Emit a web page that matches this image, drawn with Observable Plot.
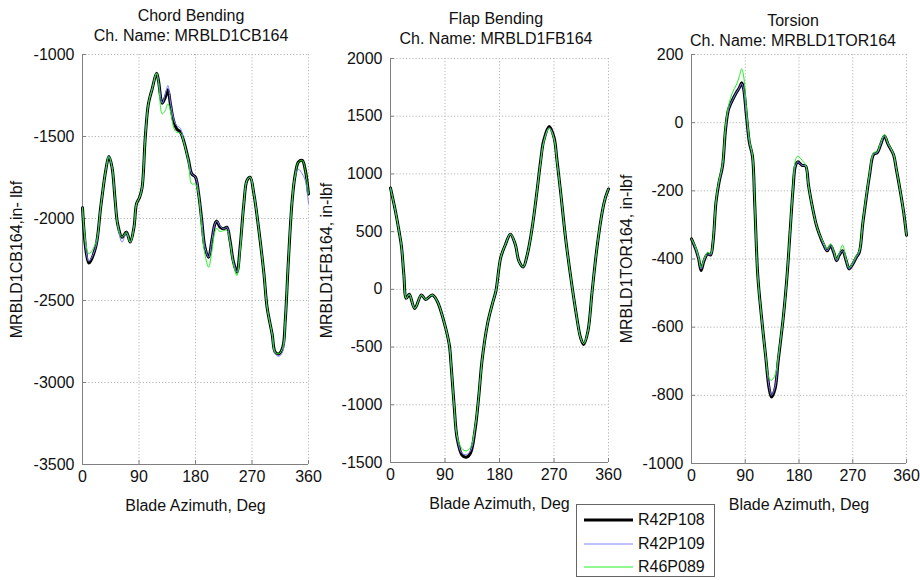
<!DOCTYPE html>
<html><head><meta charset="utf-8">
<script src="https://cdn.jsdelivr.net/npm/d3@7"></script>
<script src="https://cdn.jsdelivr.net/npm/@observablehq/plot@0.6"></script>
<style>
body{margin:0;background:#fff;font-family:"Liberation Sans",Arial,Helvetica,sans-serif;}
#wrap{position:relative;width:920px;height:580px;overflow:hidden;background:#fff;}
.panel{position:absolute;top:0;}
.title{position:absolute;text-align:center;font-size:16px;line-height:20px;color:#111;white-space:nowrap;transform:translateX(-50%);}
#legend{position:absolute;left:576px;top:504px;width:139px;height:73px;border:1px solid #666;background:#fff;box-sizing:border-box;}
.li{position:absolute;left:0;height:20px;font-size:16px;line-height:20px;color:#111;}
.li svg{position:absolute;left:7px;top:0;}
.li span{position:absolute;left:61px;top:0;white-space:nowrap;}
</style>
</head><body>
<div id="wrap"></div>
<script>
// ---------- data ----------
const seriesNames = ["R42P108", "R42P109", "R46P089"];
const xTicks = [0, 90, 180, 270, 360];

// Chord bending
const azCB = [0,10,21,29,37,42,47,52,56,63,70,76,82,86,91,95,100,105,111,118,121,127,132,136,140,145,150,156,161,169,174,180,185,190,195,201,206,211,214,219,225,230,235,240,246,251,257,262,267,273,281,289,294,302,307,313,319,323,328,334,339,344,350,355,360];
const cb108 = [-1935,-2272,-2175,-1931,-1707,-1622,-1687,-1890,-2033,-2114,-2083,-2144,-2053,-1911,-1870,-1809,-1504,-1301,-1209,-1114,-1159,-1297,-1260,-1215,-1301,-1402,-1453,-1474,-1524,-1646,-1728,-1748,-1850,-2012,-2175,-2236,-2134,-2033,-2016,-2053,-2063,-2053,-2134,-2256,-2327,-2175,-1911,-1768,-1748,-1850,-2073,-2337,-2541,-2703,-2815,-2825,-2785,-2622,-2256,-1890,-1728,-1656,-1646,-1707,-1850];
const cb109 = [-1935,-2260,-2175,-1931,-1707,-1622,-1687,-1890,-2040,-2144,-2090,-2144,-2053,-1911,-1870,-1809,-1504,-1301,-1209,-1114,-1159,-1297,-1240,-1189,-1290,-1390,-1433,-1450,-1524,-1646,-1728,-1748,-1850,-2012,-2175,-2236,-2134,-2033,-2016,-2045,-2063,-2053,-2134,-2256,-2327,-2175,-1911,-1768,-1748,-1850,-2073,-2337,-2541,-2703,-2825,-2840,-2810,-2622,-2256,-1890,-1740,-1700,-1728,-1770,-1910];
const cb089 = [-1935,-2215,-2150,-1931,-1707,-1622,-1687,-1890,-2033,-2114,-2083,-2144,-2053,-1911,-1870,-1809,-1504,-1301,-1209,-1114,-1170,-1362,-1340,-1301,-1340,-1443,-1474,-1480,-1530,-1660,-1789,-1790,-1860,-2060,-2220,-2297,-2200,-2080,-2060,-2080,-2073,-2073,-2150,-2270,-2348,-2200,-1911,-1768,-1748,-1850,-2073,-2337,-2541,-2703,-2815,-2825,-2785,-2622,-2256,-1890,-1728,-1656,-1646,-1707,-1850];

// Flap bending
const azFB = [0,8,14,18,22,26,31,40,51,58,69,77,88,97,100,105,110,118,125,132,140,146,151,160,168,174,182,190,198,206,212,219,226,234,242,248,253,262,270,275,281,289,297,306,314,319,326,333,341,350,355,360];
const fb108 = [878,681,507,377,130,-78,-43,-165,-49,-87,-49,-101,-275,-478,-650,-1000,-1290,-1435,-1455,-1420,-1203,-913,-623,-304,-130,-15,275,391,478,391,246,194,304,536,855,1116,1290,1411,1318,1116,840,449,130,-189,-421,-478,-363,-15,362,681,797,870];
const fb109 = [878,681,507,377,130,-78,-43,-165,-49,-87,-49,-101,-275,-478,-650,-1000,-1285,-1420,-1430,-1400,-1195,-913,-623,-304,-130,-15,275,391,478,391,246,194,304,536,855,1110,1280,1400,1310,1110,840,449,130,-189,-421,-470,-363,-15,362,681,797,870];
const fb089 = [878,681,507,377,130,-78,-43,-165,-49,-87,-49,-101,-275,-478,-650,-1000,-1270,-1380,-1400,-1370,-1180,-913,-623,-304,-130,-15,275,391,478,391,246,194,304,536,855,1110,1275,1395,1305,1105,840,449,130,-189,-421,-470,-363,-15,362,681,797,870];

// Torsion
const azTOR = [0,7,12,16,21,27,32,36,41,46,52,57,62,69,75,80,84,87,92,97,102,106,111,117,124,130,134,140,145,154,160,165,170,174,178,185,191,196,202,208,213,222,227,233,238,243,247,253,259,264,270,276,281,287,293,298,305,311,316,323,329,338,343,349,355,360];
const tor108 = [-341,-371,-400,-434,-405,-385,-388,-351,-234,-176,-127,-20,39,68,88,102,117,102,20,-59,-98,-244,-449,-566,-683,-780,-805,-780,-702,-566,-449,-322,-195,-127,-115,-125,-127,-185,-244,-293,-322,-361,-376,-361,-380,-405,-390,-376,-405,-429,-415,-395,-380,-293,-215,-156,-93,-88,-68,-39,-63,-93,-137,-195,-260,-330];
const tor109 = [-341,-371,-400,-430,-405,-385,-388,-351,-234,-176,-127,-20,39,68,88,102,115,100,20,-59,-98,-244,-449,-566,-683,-775,-800,-775,-700,-566,-449,-322,-195,-127,-115,-125,-127,-185,-244,-293,-322,-361,-376,-361,-380,-405,-390,-376,-405,-429,-415,-395,-380,-293,-215,-156,-93,-88,-68,-39,-63,-93,-137,-195,-260,-330];
const tor089 = [-341,-365,-395,-425,-400,-380,-385,-345,-230,-170,-120,-10,50,90,110,135,158,140,40,-50,-95,-244,-449,-566,-680,-750,-756,-740,-690,-566,-449,-322,-190,-110,-98,-110,-125,-185,-244,-293,-322,-355,-370,-355,-375,-400,-385,-359,-400,-425,-410,-390,-375,-290,-210,-150,-88,-85,-62,-35,-60,-90,-135,-195,-260,-330];

// ---------- drawing ----------
const FONT = '"Liberation Sans", Arial, Helvetica, sans-serif';
const H = 520;
const colors = ["#000000", "#8080ff", "#22ee22"];
const widths = [3, 1, 1];
const rows = (az, v) => az.map((a, i) => ({az: a, v: v[i]}));

function panel({left, width, mL, mR, mT, mB, yDomain, yTicks, yLabel, az, series, yLabelOffset, xLabelOffset}) {
  const plotW = width - mL - mR;
  const plotH = H - mT - mB;
  const gridStyle = {stroke: "#b5b5b5", strokeOpacity: 1, strokeDasharray: "1.2,2"};
  const marks = [
    Plot.gridX(xTicks.filter(d => d !== 0), gridStyle),
    Plot.gridY(yTicks.filter(d => d !== yDomain[0]), gridStyle),
    Plot.ruleX([0], {stroke: "#808080"}),
    Plot.ruleY([yDomain[0]], {stroke: "#808080"}),
    Plot.ruleX(xTicks, {stroke: "#808080", insetTop: plotH - 4}),
    Plot.ruleY(yTicks, {stroke: "#808080", insetRight: plotW - 4})
  ];
  series.forEach((s, i) => {
    marks.push(Plot.line(rows(az, s), {x: "az", y: "v", stroke: colors[i], strokeWidth: widths[i], curve: "catmull-rom", strokeLinejoin: "round"}));
  });
  marks.push(
    Plot.axisX(xTicks, {tickSize: 0, tickPadding: 6, tickFormat: d => String(d), label: "Blade Azimuth, Deg", labelAnchor: "center", labelArrow: "none", labelOffset: xLabelOffset, fontSize: 16, fill: "#111"}),
    Plot.axisY(yTicks, {tickSize: 0, tickPadding: 8, tickFormat: d => String(d), label: yLabel, labelAnchor: "center", labelArrow: "none", labelOffset: yLabelOffset, fontSize: 16, fill: "#111"})
  );
  const svg = Plot.plot({
    width, height: H,
    marginLeft: mL, marginRight: mR, marginTop: mT, marginBottom: mB,
    style: {background: "transparent", overflow: "visible", fontFamily: FONT, fontSize: "16px", color: "#111"},
    x: {domain: [0, 360]},
    y: {domain: yDomain},
    marks
  });
  svg.classList.add("panel");
  svg.style.left = left + "px";
  svg.style.position = "absolute";
  svg.style.top = "0px";
  return svg;
}

const wrap = document.getElementById("wrap");

wrap.appendChild(panel({
  left: 0, width: 312, mL: 82, mR: 4, mT: 54, mB: 56,
  yDomain: [-3500, -1000], yTicks: [-3500, -3000, -2500, -2000, -1500, -1000],
  yLabel: "MRBLD1CB164,in- lbf", az: azCB, series: [cb108, cb109, cb089],
  yLabelOffset: 72, xLabelOffset: 46
}));
wrap.appendChild(panel({
  left: 312, width: 300, mL: 78, mR: 4, mT: 58, mB: 58,
  yDomain: [-1500, 2000], yTicks: [-1500, -1000, -500, 0, 500, 1000, 1500, 2000],
  yLabel: "MRBLD1FB164, in-lbf", az: azFB, series: [fb108, fb109, fb089],
  yLabelOffset: 70, xLabelOffset: 46
}));
wrap.appendChild(panel({
  left: 612, width: 298, mL: 79, mR: 4, mT: 54, mB: 57,
  yDomain: [-1000, 200], yTicks: [-1000, -800, -600, -400, -200, 0, 200],
  yLabel: "MRBLD1TOR164, in-lbf", az: azTOR, series: [tor108, tor109, tor089],
  yLabelOffset: 71, xLabelOffset: 46
}));

// titles
const titles = [
  {x: 191, y: 6, t: ["Chord Bending", "Ch. Name: MRBLD1CB164"]},
  {x: 496, y: 9, t: ["Flap Bending", "Ch. Name: MRBLD1FB164"]},
  {x: 793, y: 11, t: ["Torsion", "Ch. Name: MRBLD1TOR164"]}
];
titles.forEach(d => {
  const el = document.createElement("div");
  el.className = "title";
  el.style.left = d.x + "px";
  el.style.top = d.y + "px";
  el.innerHTML = d.t.join("<br>");
  wrap.appendChild(el);
});

// legend
const leg = document.createElement("div");
leg.id = "legend";
seriesNames.forEach((name, i) => {
  const item = document.createElement("div");
  item.className = "li";
  item.style.top = (5 + i * 23.5) + "px";
  item.style.width = "137px";
  item.innerHTML = `<svg width="50" height="20"><line x1="0" x2="49" y1="10" y2="10" stroke="${colors[i]}" stroke-width="${widths[i]}"/></svg><span>${name}</span>`;
  leg.appendChild(item);
});
wrap.appendChild(leg);
</script>
</body></html>
